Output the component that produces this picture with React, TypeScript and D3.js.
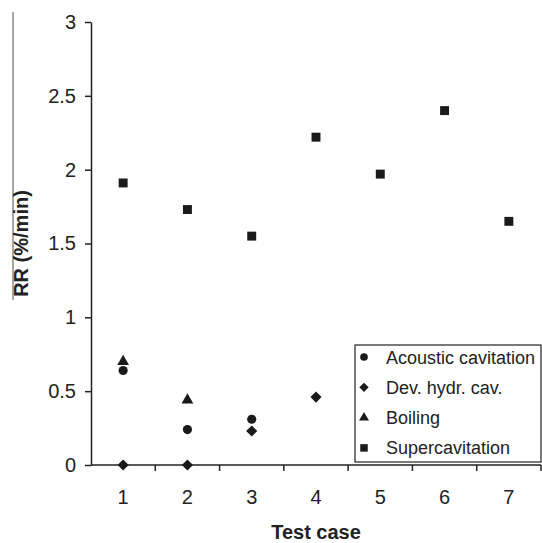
import { useRef, useEffect } from 'react';
import * as d3 from 'd3';

const testCases = ['1', '2', '3', '4', '5', '6', '7'];
const yTicks = [0, 0.5, 1, 1.5, 2, 2.5, 3];

const acoustic = [
    { x: '1', y: 0.64 },
    { x: '2', y: 0.24 },
    { x: '3', y: 0.31 },
];
const devHydr = [
    { x: '1', y: 0 },
    { x: '2', y: 0 },
    { x: '3', y: 0.23 },
    { x: '4', y: 0.46 },
];
const boiling = [
    { x: '1', y: 0.7 },
    { x: '2', y: 0.44 },
];
const supercav = [
    { x: '1', y: 1.91 },
    { x: '2', y: 1.73 },
    { x: '3', y: 1.55 },
    { x: '4', y: 2.22 },
    { x: '5', y: 1.97 },
    { x: '6', y: 2.4 },
    { x: '7', y: 1.65 },
];

const seriesList = [
    { name: 'Acoustic cavitation', data: acoustic, shape: 'circle' },
    { name: 'Dev. hydr. cav.', data: devHydr, shape: 'diamond' },
    { name: 'Boiling', data: boiling, shape: 'triangle' },
    { name: 'Supercavitation', data: supercav, shape: 'square' },
];

const FONT = "'Liberation Sans', Arial, sans-serif";
const INK = '#1a1a1a';

function symbolPath(shape: string, scale: number) {
    if (shape === 'circle') return d3.symbol(d3.symbolCircle, 66 * scale)();
    if (shape === 'square') return d3.symbol(d3.symbolSquare, 80 * scale)();
    if (shape === 'triangle') return d3.symbol(d3.symbolTriangle, 60 * scale)();
    return d3.symbol(d3.symbolSquare, 62 * scale)();
}

function App() {
    const svgRef = useRef<SVGSVGElement>(null);

    useEffect(() => {
        const width = 542;
        const height = 543;
        const m = { left: 91, right: 541, top: 22, bottom: 465 };

        const svg = d3.select(svgRef.current);
        svg.selectAll('*').remove();

        const x = d3.scaleBand().domain(testCases).range([m.left, m.right]);
        const y = d3.scaleLinear().domain([0, 3]).range([m.bottom, m.top]);

        svg.append('rect').attr('width', width).attr('height', height).attr('fill', '#fff');

        // stray grey edge line from the scan
        svg.append('line')
            .attr('x1', 13).attr('x2', 13).attr('y1', 12).attr('y2', 300)
            .attr('stroke', '#8a8a8a').attr('stroke-width', 1.5);

        // y axis
        const yAxis = svg.append('g').attr('transform', `translate(${m.left},0)`)
            .call(d3.axisLeft(y).tickValues(yTicks).tickSize(6).tickSizeOuter(0).tickPadding(9)
                .tickFormat(d => String(d)));
        yAxis.select('.domain').attr('stroke', '#222').attr('stroke-width', 1.5);
        yAxis.selectAll('.tick line').attr('stroke', '#222').attr('stroke-width', 1.5);
        yAxis.selectAll('.tick text')
            .attr('font-family', FONT).attr('font-size', 20).attr('fill', '#222');

        // x axis: ticks between categories
        const xg = svg.append('g').attr('transform', `translate(0,${m.bottom})`);
        xg.append('line')
            .attr('x1', m.left).attr('x2', m.right)
            .attr('stroke', '#222').attr('stroke-width', 1.5);
        const bounds = testCases.map(c => (x(c) as number) + x.bandwidth());
        xg.selectAll('line.tk').data(bounds).enter().append('line')
            .attr('class', 'tk')
            .attr('x1', d => d).attr('x2', d => d)
            .attr('y1', 0).attr('y2', 6)
            .attr('stroke', '#222').attr('stroke-width', 1.5);
        xg.selectAll('text').data(testCases).enter().append('text')
            .attr('x', d => (x(d) as number) + x.bandwidth() / 2)
            .attr('y', 39)
            .attr('text-anchor', 'middle')
            .attr('font-family', FONT).attr('font-size', 20).attr('fill', '#222')
            .text(d => d);

        // axis titles
        svg.append('text')
            .attr('x', (m.left + m.right) / 2).attr('y', 539)
            .attr('text-anchor', 'middle')
            .attr('font-family', FONT).attr('font-size', 20).attr('font-weight', 'bold').attr('fill', '#222')
            .text('Test case');
        svg.append('text')
            .attr('transform', `translate(28,${(m.top + m.bottom) / 2}) rotate(-90)`)
            .attr('text-anchor', 'middle')
            .attr('font-family', FONT).attr('font-size', 20).attr('font-weight', 'bold').attr('fill', '#222')
            .text('RR (%/min)');

        // points
        seriesList.forEach(s => {
            svg.append('g').selectAll('path').data(s.data).enter().append('path')
                .attr('d', symbolPath(s.shape, 1))
                .attr('transform', d => {
                    const cx = (x(d.x) as number) + x.bandwidth() / 2;
                    const rot = s.shape === 'diamond' ? ' rotate(45)' : '';
                    return `translate(${cx},${y(d.y)})${rot}`;
                })
                .attr('fill', INK);
        });

        // legend
        const lg = svg.append('g').attr('transform', 'translate(355,345)');
        lg.append('rect')
            .attr('width', 186).attr('height', 117)
            .attr('fill', '#fff').attr('stroke', '#222').attr('stroke-width', 1.2);
        seriesList.forEach((s, i) => {
            const row = lg.append('g').attr('transform', `translate(0,${12 + i * 30.3})`);
            row.append('path')
                .attr('d', symbolPath(s.shape, 0.7))
                .attr('transform', `translate(9,0)${s.shape === 'diamond' ? ' rotate(45)' : ''}`)
                .attr('fill', INK);
            row.append('text')
                .attr('x', 31).attr('y', 6.5)
                .attr('font-family', FONT).attr('font-size', 18).attr('fill', '#222')
                .text(s.name);
        });
    }, []);

    return (
        <div style={{ position: 'absolute', left: 0, top: 0 }}>
            <svg ref={svgRef} width={542} height={543} style={{ display: 'block' }}></svg>
        </div>
    );
}

export default App;
